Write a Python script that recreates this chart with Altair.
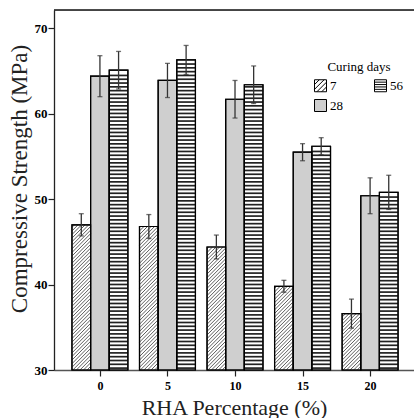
import altair as alt
import pandas as pd

# ---- data ----
rha = [0, 5, 10, 15, 20]
curing_days = ["7", "28", "56"]
strength_7 = [47.0, 46.8, 44.4, 39.8, 36.6]
strength_28 = [64.4, 63.9, 61.7, 55.5, 50.4]
strength_56 = [65.1, 66.3, 63.4, 56.2, 50.8]
err_7 = [1.3, 1.4, 1.4, 0.7, 1.7]
err_28 = [2.4, 2.0, 2.2, 1.0, 2.1]
err_56 = [2.2, 1.7, 2.2, 1.0, 2.0]
y_ticks = [30, 40, 50, 60, 70]

series_vals = [strength_7, strength_28, strength_56]
series_errs = [err_7, err_28, err_56]
rows = []
for g, r in enumerate(rha):
    for s, d in enumerate(curing_days):
        rows.append({"g": g, "rha": r, "s": s, "days": d,
                     "value": series_vals[s][g], "err": series_errs[s][g]})
df = pd.DataFrame(rows)

FONT = "Liberation Serif"
BW = 0.276          # bar width (x units)
Y0 = 30             # axis baseline
H = 2.2             # hatch rise across one bar (y units) ~45 deg
S = 0.42            # hatch spacing (y units)
S2 = 0.445          # stripe spacing (y units)

xscale = alt.Scale(domain=[-0.68, 4.65], nice=False, zero=False)
yscale = alt.Scale(domain=[30, 72.15], nice=False, zero=False)
label_expr = "[" + ",".join(f"'{r}'" for r in rha) + "][datum.value]"

xaxis = alt.Axis(values=list(range(len(rha))), labelExpr=label_expr,
                 title="RHA Percentage (%)", grid=False,
                 labelFont=FONT, labelFontWeight="bold", labelColor="black",
                 labelFontSize=12, labelPadding=4,
                 domainColor="#555", titleFont=FONT, titleFontWeight="normal",
                 titleColor="#222", titleFontSize=22, titleY=44,
                 titleBaseline="alphabetic")
yaxis = alt.Axis(values=y_ticks, title="Compressive Strength (MPa)", grid=False,
                 labelFont=FONT, labelFontWeight="bold", labelColor="black",
                 labelFontSize=13, labelPadding=1,
                 domainColor="#222", titleFont=FONT, titleFontWeight="normal",
                 titleColor="#222", titleFontSize=23,
                 titleX=-28, titleY=168.5,
                 titleBaseline="alphabetic", titleAlign="center", titleAngle=270)


def X(f):
    return alt.X(f"{f}:Q", scale=xscale, axis=xaxis)


def Y(f):
    return alt.Y(f"{f}:Q", scale=yscale, axis=yaxis)


base = alt.Chart(df).transform_calculate(
    xc=f"datum.g + (datum.s - 1) * {BW}",
    xl=f"datum.g + (datum.s - 1) * {BW} - {BW / 2}",
    xr=f"datum.g + (datum.s - 1) * {BW} + {BW / 2}",
    lo="datum.value - datum.err",
    hi="datum.value + datum.err",
    baseline=f"{Y0}",
)

# legend symbols (custom paths)
sq = "M-1,-1H1V1H-1Z"
hatch_lines = ""
for c in [-1.2, -0.4, 0.4, 1.2]:
    if c <= 0:
        hatch_lines += f"M-1,{c + 1:.2f}L{c + 1:.2f},-1"
    else:
        hatch_lines += f"M{c - 1:.2f},1L1,{c - 1:.2f}"
stripe_lines = "".join(f"M-1,{yy}H1" for yy in [-0.6, -0.2, 0.2, 0.6])
shape_range = {"7": sq + hatch_lines, "28": sq, "56": sq + stripe_lines}
fill_range = {"7": "#ffffff", "28": "#cfcfcf", "56": "#ffffff"}

legend = alt.Legend(title="Curing days", orient="none", legendX=260, legendY=51,
                    columns=2, columnPadding=29, rowPadding=3, padding=0,
                    symbolSize=144, symbolStrokeWidth=1, symbolOpacity=1,
                    labelOffset=3, titleAnchor="middle", titleAlign="center",
                    titlePadding=5, labelFont=FONT, titleFont=FONT)

legend_pts = base.mark_point(filled=False, opacity=0, strokeWidth=1).encode(
    x=X("xc"), y=Y("value"),
    color=alt.Color("days:N", scale=alt.Scale(domain=curing_days,
                                              range=["#000000"] * 3), legend=legend),
    fill=alt.Fill("days:N", scale=alt.Scale(domain=curing_days,
                                            range=[fill_range[d] for d in curing_days]),
                  legend=legend),
    shape=alt.Shape("days:N", scale=alt.Scale(domain=curing_days,
                                              range=[shape_range[d] for d in curing_days]),
                    legend=legend),
)

bars = base.mark_bar(stroke="black", strokeWidth=1.2).encode(
    x=X("xl"), x2="xr:Q", y=Y("value"), y2="baseline:Q",
    fill=alt.condition("datum.s == 1", alt.value(fill_range["28"]), alt.value("#ffffff")),
)

hatch = base.transform_filter("datum.s == 0").transform_calculate(
    k=f"sequence(0, ceil((datum.value - {Y0} + {H}) / {S}))"
).transform_flatten(["k"]).transform_calculate(
    y0=f"{Y0} - {H} + datum.k * {S}"
).transform_calculate(
    ya=f"max(datum.y0, {Y0})",
    yb=f"min(datum.y0 + {H}, datum.value)",
).transform_calculate(
    xa=f"datum.xl + (datum.ya - datum.y0) / {H} * {BW}",
    xb=f"datum.xl + (datum.yb - datum.y0) / {H} * {BW}",
).transform_filter("datum.yb > datum.ya").mark_rule(color="#333", strokeWidth=0.8).encode(
    x=X("xa"), x2="xb:Q", y=Y("ya"), y2="yb:Q"
)

stripes = base.transform_filter("datum.s == 2").transform_calculate(
    k=f"sequence(0, floor((datum.value - {Y0}) / {S2}))"
).transform_flatten(["k"]).transform_calculate(
    ys=f"{Y0} + (datum.k + 0.5) * {S2}"
).mark_rule(color="#222", strokeWidth=1.7).encode(
    x=X("xl"), x2="xr:Q", y=Y("ys")
)

outline = base.mark_bar(fill="transparent", stroke="black", strokeWidth=1.2).encode(
    x=X("xl"), x2="xr:Q", y=Y("value"), y2="baseline:Q",
)

err_rule = base.mark_rule(color="#333", strokeWidth=1.3).encode(
    x=X("xc"), y=Y("lo"), y2="hi:Q"
)
caps = base.transform_fold(["lo", "hi"], as_=["end", "ev"]).mark_tick(
    orient="horizontal", size=5, thickness=1.3, color="#333"
).encode(x=X("xc"), y=Y("ev"))

frame_top = alt.Chart(pd.DataFrame({"edge": ["top"]})).mark_rule(
    color="#111", strokeWidth=1.5
).encode(x=alt.value(0), x2=alt.value(360), y=alt.value(0))

chart = alt.layer(legend_pts, bars, hatch, stripes, outline, err_rule, caps, frame_top).properties(
    width=360, height=360,
    padding={"left": 54, "top": 10, "right": 0, "bottom": 48},
    autosize=alt.AutoSizeParams(type="none"),
).configure_view(stroke=None).configure(
    background="white", font=FONT,
    style={"guide-label": {"font": FONT}, "guide-title": {"font": FONT}},
).configure_axis(
    labelFont=FONT, labelFontWeight="bold", labelColor="black",
    titleFont=FONT, titleFontWeight="normal", titleColor="#222",
    tickSize=6, tickColor="#222", tickWidth=1.2, domainWidth=1.3,
).configure_axisX(labelFont=FONT, titleFont=FONT
).configure_axisY(labelFont=FONT, titleFont=FONT
).configure_legend(
    labelFont=FONT, labelFontSize=13, labelColor="black",
    titleFont=FONT, titleFontSize=13, titleFontWeight="normal", titleColor="black",
    symbolStrokeColor="black",
)

chart.save("out.html", embed_options={"renderer": "svg", "actions": False})
